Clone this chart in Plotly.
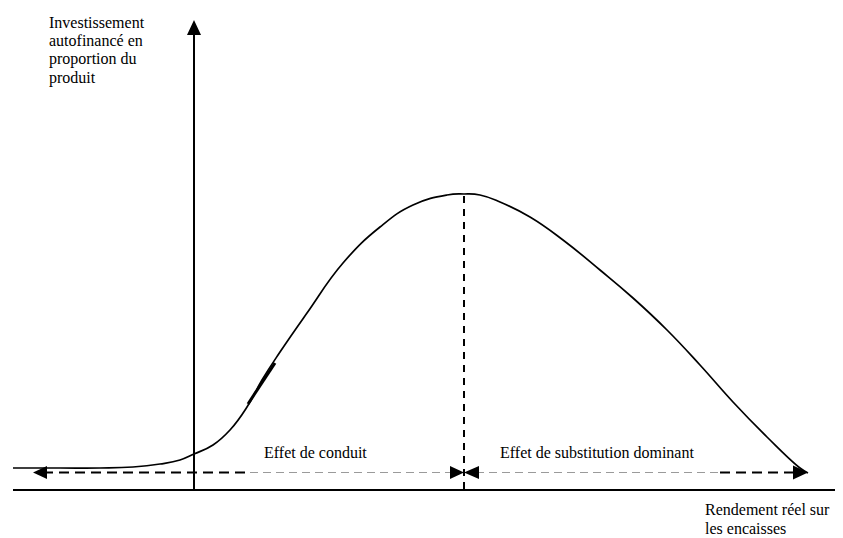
import plotly.graph_objects as go

# ---------------- data (pixel-space schematic) ----------------
curve_x = [13, 60, 100, 133, 160, 180, 194, 213, 230, 247, 262, 280, 307, 343, 380, 413, 447,
           464, 480, 500, 530, 563, 600, 633, 667, 700, 733, 767, 800, 808]
curve_y = [468, 468, 468, 467, 464, 460, 454, 445, 430, 407, 380, 352, 313, 263, 227, 205, 195,
           194, 195, 202, 217, 240, 270, 298, 330, 365, 402, 437, 468, 473]

y_label_lines = ["Investissement", "autofinancé en", "proportion du", "produit"]
x_label_lines = ["Rendement réel sur", "les encaisses"]
left_region_label = "Effet de conduit"
right_region_label = "Effet de substitution dominant"

# geometry (window pixel space; page body has an 8px margin)
W, H = 843, 538
BODY = 8
origin_x, axis_y = 194, 490
yaxis_top = 20
xaxis_left, xaxis_right = 13, 850
peak_x, peak_y = 464, 194
dash_y = 472.5
dash_left, dash_right = 33, 808
heavy_left_end, heavy_right_start = 250, 720

fig = go.Figure()

# main curve
fig.add_trace(go.Scatter(x=curve_x, y=curve_y, mode="lines",
                         line=dict(color="black", width=1.7, shape="spline", smoothing=1.3),
                         hoverinfo="skip", showlegend=False))
# small thicker overlay segment on rising part
fig.add_trace(go.Scatter(x=[248, 275], y=[404, 363], mode="lines",
                         line=dict(color="black", width=3),
                         hoverinfo="skip", showlegend=False))

shapes = []


def line(x0, y0, x1, y1, color="black", width=2, dash=None):
    d = dict(type="line", xref="x", yref="y", x0=x0, y0=y0, x1=x1, y1=y1,
             line=dict(color=color, width=width))
    if dash:
        d["line"]["dash"] = dash
    shapes.append(d)


def tri(tx, ty, direction, length=15, half=7):
    if direction == "left":
        pts = [(tx, ty), (tx + length, ty - half), (tx + length, ty + half)]
    elif direction == "right":
        pts = [(tx, ty), (tx - length, ty - half), (tx - length, ty + half)]
    else:  # up
        pts = [(tx, ty), (tx - half, ty + length), (tx + half, ty + length)]
    path = "M {} {} L {} {} L {} {} Z".format(*[c for p in pts for c in p])
    shapes.append(dict(type="path", xref="x", yref="y", path=path,
                       fillcolor="black", line=dict(color="black", width=0)))


# axes
line(xaxis_left, axis_y, xaxis_right - 10, axis_y, width=2)
line(origin_x, axis_y + 1, origin_x, yaxis_top + 10, width=2)
tri(origin_x, yaxis_top, "up", length=15, half=7)
tri(xaxis_right, axis_y, "right", length=14, half=6)

# vertical dashed line from peak
line(peak_x, peak_y + 2, peak_x, axis_y, width=2, dash="7px,6px")

# horizontal dashed arrows
line(dash_left + 10, dash_y, heavy_left_end, dash_y, width=2, dash="10px,6px")
line(heavy_left_end, dash_y, peak_x - 12, dash_y, color="#9a9a9a", width=1, dash="8px,5px")
line(peak_x + 12, dash_y, heavy_right_start, dash_y, color="#9a9a9a", width=1, dash="8px,5px")
line(heavy_right_start, dash_y, dash_right - 10, dash_y, width=2, dash="10px,6px")
tri(dash_left, dash_y, "left", length=14, half=6.5)
tri(peak_x, dash_y, "right", length=14, half=6.5)
tri(peak_x, dash_y, "left", length=15, half=6.5)
tri(dash_right, dash_y, "right", length=15, half=7)

font = dict(family="Liberation Serif, Times New Roman, serif", size=16, color="black")
annotations = []
for i, t in enumerate(y_label_lines):
    annotations.append(dict(x=47, y=22 + i * 18.7, text=t, showarrow=False,
                            xanchor="left", yanchor="middle", font=font))
for i, t in enumerate(x_label_lines):
    annotations.append(dict(x=703, y=509 + i * 19, text=t, showarrow=False,
                            xanchor="left", yanchor="middle", font=font))
annotations.append(dict(x=315, y=452, text=left_region_label, showarrow=False,
                        xanchor="center", yanchor="middle", font=font))
annotations.append(dict(x=596.5, y=452, text=right_region_label, showarrow=False,
                        xanchor="center", yanchor="middle", font=font))

fig.update_layout(
    width=W - BODY, height=H - BODY,
    margin=dict(l=0, r=0, t=0, b=0),
    paper_bgcolor="white", plot_bgcolor="white",
    xaxis=dict(range=[BODY, W], visible=False, fixedrange=True),
    yaxis=dict(range=[H, BODY], visible=False, fixedrange=True),
    shapes=shapes, annotations=annotations,
    showlegend=False,
)

fig.write_html("out.html")
